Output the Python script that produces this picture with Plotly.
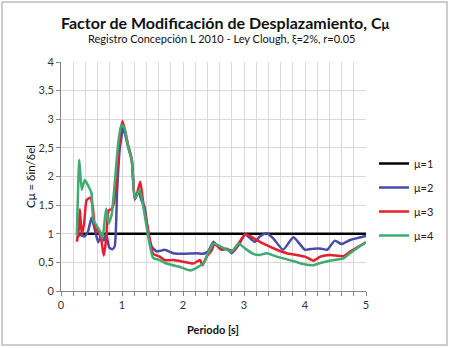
import plotly.graph_objects as go

# ---- data ----
t_mu1 = [0.25, 5.00]
c_mu1 = [1.00, 1.00]

t_mu2 = [0.26,0.31,0.38,0.44,0.50,0.56,0.61,0.66,0.70,0.74,0.79,0.84,0.88,0.92,0.96,1.02,1.10,1.16,1.21,1.27,
         1.32,1.37,1.43,1.49,1.57,1.62,1.70,1.84,2.01,2.22,2.33,2.41,2.50,2.55,2.63,2.72,2.80,2.91,3.02,3.10,
         3.18,3.26,3.37,3.48,3.64,3.81,4.00,4.14,4.27,4.36,4.49,4.60,4.74,5.00]
c_mu2 = [0.92,0.98,0.95,1.03,1.28,1.05,0.85,0.98,0.88,1.00,0.76,0.73,0.78,1.75,2.45,2.85,2.52,2.29,1.60,1.74,
         1.58,1.47,1.01,0.77,0.69,0.70,0.72,0.66,0.65,0.66,0.65,0.69,0.86,0.80,0.72,0.74,0.66,0.80,0.99,0.92,
         0.86,0.95,1.01,0.92,0.72,0.94,0.72,0.74,0.74,0.72,0.88,0.82,0.89,0.96]

t_mu3 = [0.26,0.29,0.31,0.34,0.38,0.42,0.48,0.52,0.56,0.61,0.66,0.70,0.74,0.78,0.83,0.87,0.92,0.97,1.01,1.10,
         1.16,1.21,1.25,1.30,1.35,1.43,1.51,1.62,1.70,1.84,2.01,2.17,2.28,2.32,2.39,2.47,2.52,2.61,2.72,2.83,
         2.91,3.02,3.10,3.21,3.37,3.54,3.70,3.86,4.00,4.14,4.25,4.41,4.63,4.74,4.87,5.00]
c_mu3 = [0.86,1.06,1.43,0.98,1.19,1.59,1.63,1.47,1.10,1.04,0.90,0.62,0.90,1.41,1.43,1.55,2.05,2.75,2.97,2.55,
         2.29,1.60,1.72,1.91,1.53,1.06,0.65,0.60,0.54,0.54,0.51,0.48,0.54,0.45,0.60,0.71,0.83,0.74,0.73,0.70,
         0.83,0.99,0.96,0.89,0.80,0.72,0.66,0.63,0.60,0.53,0.60,0.63,0.61,0.69,0.77,0.85]

t_mu4 = [0.26,0.30,0.34,0.39,0.45,0.50,0.53,0.59,0.64,0.68,0.74,0.78,0.83,0.89,0.94,0.99,1.04,1.10,1.16,1.21,
         1.29,1.35,1.43,1.51,1.62,1.73,1.95,2.12,2.23,2.33,2.41,2.50,2.63,2.80,2.91,3.02,3.15,3.26,3.37,3.54,
         3.75,3.97,4.14,4.25,4.41,4.63,4.74,4.87,5.00]
c_mu4 = [0.97,2.29,1.77,1.94,1.83,1.71,1.24,1.13,1.04,0.92,1.44,1.18,1.33,2.00,2.60,2.90,2.85,2.52,2.29,1.62,
         1.77,1.47,0.95,0.58,0.54,0.48,0.42,0.36,0.41,0.48,0.66,0.83,0.77,0.69,0.83,0.74,0.65,0.63,0.66,0.60,
         0.54,0.47,0.45,0.49,0.53,0.57,0.66,0.76,0.85]

series_names = ["μ=1", "μ=2", "μ=3", "μ=4"]
x_tick_vals = [0, 1, 2, 3, 4, 5]
x_tick_text = ["0", "1", "2", "3", "4", "5"]
y_tick_vals = [0, 0.5, 1, 1.5, 2, 2.5, 3, 3.5, 4]
y_tick_text = ["0", "0,5", "1", "1,5", "2", "2,5", "3", "3,5", "4"]

colors = ["#000000", "#4B4BA8", "#E5202E", "#3FAA72"]
FONT = "Lato, 'Open Sans', sans-serif"

fig = go.Figure()
data = [(t_mu1, c_mu1), (t_mu2, c_mu2), (t_mu3, c_mu3), (t_mu4, c_mu4)]
for i, (t, c) in enumerate(data):
    fig.add_trace(go.Scatter(
        x=t, y=c, mode="lines", name=series_names[i],
        line=dict(color=colors[i], width=2.5, shape="spline", smoothing=0.5),
        legendgroup=series_names[i],
    ))

L, R, T, B = 61, 84, 62, 57
W, H = 450, 348
pw, ph = W - L - R, H - T - B

def px(x):
    return (x - L) / pw

def py(y):
    return (H - B - y) / ph

fig.update_layout(
    width=W, height=H,
    margin=dict(l=L, r=R, t=T, b=B, autoexpand=False),
    paper_bgcolor="white", plot_bgcolor="white",
    font=dict(family=FONT, size=10, color="#333333"),
    showlegend=True,
    legend=dict(x=px(374), y=py(149), xanchor="left", yanchor="top",
                font=dict(size=11, color="#222222"), itemwidth=30,
                tracegroupgap=5, traceorder="grouped", bgcolor="rgba(0,0,0,0)"),
    xaxis=dict(range=[0, 5], tickvals=x_tick_vals, ticktext=x_tick_text,
               showgrid=True, gridcolor="#d9d9d9", gridwidth=1,
               minor=dict(dtick=0.2, showgrid=True, gridcolor="#d9d9d9", ticks="outside",
                          ticklen=4, tickcolor="#868686"),
               ticks="outside", ticklen=4, tickcolor="#868686",
               showline=True, linecolor="#868686", linewidth=1, zeroline=False,
               tickfont=dict(size=11, color="#333333")),
    yaxis=dict(range=[0, 4], tickvals=y_tick_vals, ticktext=y_tick_text,
               showgrid=True, gridcolor="#d9d9d9", gridwidth=1,
               ticks="outside", ticklen=4, tickcolor="#868686",
               showline=True, linecolor="#868686", linewidth=1, zeroline=False,
               tickfont=dict(size=11, color="#333333")),
    annotations=[
        dict(text="<b>Factor de Modificación de Desplazamiento, C<span style='font-size:13px'>μ</span></b>",
             x=px(225), y=py(22), xref="paper", yref="paper", showarrow=False,
             xanchor="center", yanchor="middle", font=dict(size=16, color="#111111")),
        dict(text="Registro Concepción L 2010 - Ley Clough, ξ=2%, r=0.05",
             x=px(221), y=py(38), xref="paper", yref="paper", showarrow=False,
             xanchor="center", yanchor="middle", font=dict(size=11, color="#111111")),
        dict(text="Cμ = δin/δel", textangle=-90,
             x=px(30), y=py(177), xref="paper", yref="paper", showarrow=False,
             xanchor="center", yanchor="middle", font=dict(size=11.5, color="#111111")),
        dict(text="<b>Periodo [s]</b>",
             x=px(213), y=py(329), xref="paper", yref="paper", showarrow=False,
             xanchor="center", yanchor="middle", font=dict(size=11, color="#111111")),
    ],
    shapes=[dict(type="rect", xref="paper", yref="paper",
                 x0=px(2), x1=px(447), y0=py(345), y1=py(2),
                 line=dict(color="#bdbdbd", width=1.5), layer="below")],
)

fig.write_html("out.html")
